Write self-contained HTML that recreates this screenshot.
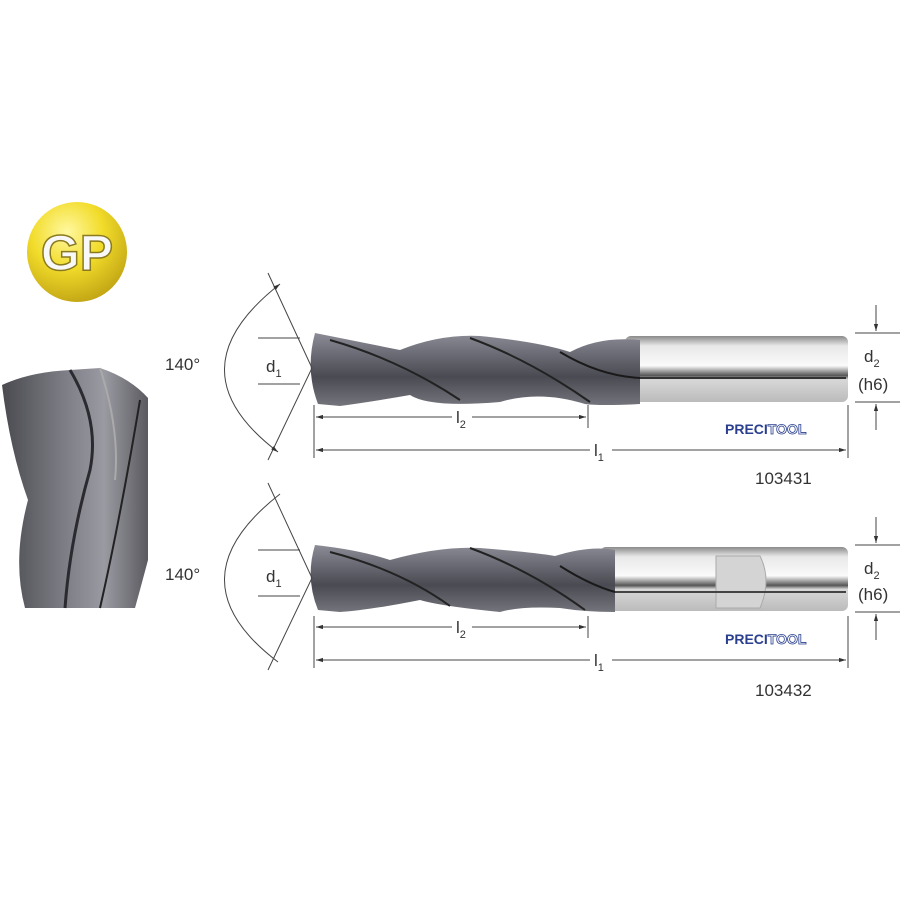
<!DOCTYPE html>
<html><head><meta charset="utf-8"><style>
html,body{margin:0;padding:0;background:#fff;}
svg{display:block;}
text{font-family:"Liberation Sans",sans-serif;fill:#333;}
</style></head><body>
<svg width="900" height="900" viewBox="0 0 900 900" xmlns="http://www.w3.org/2000/svg">
<defs>
<radialGradient id="gold" cx="0.4" cy="0.3" r="0.8">
<stop offset="0" stop-color="#fff8a0"/><stop offset="0.45" stop-color="#f2dc2a"/><stop offset="1" stop-color="#b89a10"/>
</radialGradient>
<linearGradient id="shank" x1="0" y1="0" x2="0" y2="1">
<stop offset="0" stop-color="#8a8a8a"/><stop offset="0.15" stop-color="#e8e8e8"/><stop offset="0.45" stop-color="#fafafa"/><stop offset="0.6" stop-color="#555"/><stop offset="0.66" stop-color="#d8d8d8"/><stop offset="1" stop-color="#bbb"/>
</linearGradient>
<linearGradient id="flute" x1="0" y1="0" x2="0" y2="1">
<stop offset="0" stop-color="#8c8c96"/><stop offset="0.3" stop-color="#6a6a74"/><stop offset="0.6" stop-color="#4a4a52"/><stop offset="1" stop-color="#74747c"/>
</linearGradient>
<linearGradient id="big" x1="0" y1="0" x2="1" y2="0">
<stop offset="0" stop-color="#4a4a50"/><stop offset="0.4" stop-color="#7a7a82"/><stop offset="0.7" stop-color="#9a9aa2"/><stop offset="1" stop-color="#5a5a60"/>
</linearGradient>
<marker id="ar" viewBox="0 0 10 10" refX="10" refY="5" markerWidth="7" markerHeight="7" orient="auto-start-reverse"><path d="M0,2 L10,5 L0,8 z" fill="#333"/></marker>
</defs>

<circle cx="77" cy="252" r="50" fill="url(#gold)"/>
<text x="77" y="270" text-anchor="middle" font-size="50" font-weight="bold" style="fill:#f8f8f8;stroke:#8a7a20;stroke-width:1.5">GP</text>

<path d="M2,385 Q30,372 70,370 L100,368 Q130,378 148,398 L148,560 Q140,590 135,608 L25,608 Q12,560 28,500 Q10,450 2,385 z" fill="url(#big)"/>
<path d="M70,370 Q100,420 90,470 Q70,540 65,608" stroke="#2a2a30" stroke-width="3" fill="none"/>
<path d="M100,368 Q120,430 115,480" stroke="#aaa" stroke-width="2" fill="none"/>
<path d="M140,400 Q120,520 100,608" stroke="#222" stroke-width="2" fill="none"/>

<g>
<rect x="625" y="336" width="223" height="66" rx="6" fill="url(#shank)"/>
<path d="M315,333 Q360,342 400,350 Q440,334 480,336 Q540,342 570,352 Q600,336 640,340 L640,404 Q600,406 585,404 Q540,390 500,402 Q430,408 410,395 Q370,402 340,406 L318,404 Q305,370 315,333 z" fill="url(#flute)"/>
<path d="M330,340 Q400,360 460,400" stroke="#222" stroke-width="2" fill="none"/>
<path d="M470,338 Q530,360 590,402" stroke="#222" stroke-width="2" fill="none"/>
<path d="M560,352 Q600,376 640,378" stroke="#1a1a1a" stroke-width="2" fill="none"/>
<path d="M640,378 L846,378" stroke="#333" stroke-width="2"/>
</g>
<g stroke="#444" stroke-width="1" fill="none">
<path d="M268,273 L312,368 L268,460"/>
<path d="M280,284 Q170,370 278,452" marker-start="url(#ar)" marker-end="url(#ar)"/>
<path d="M258,338 L300,338 M258,384 L300,384"/>
<path d="M314,405 L314,458 M588,405 L588,428 M848,405 L848,458"/>
<path d="M316,417 L452,417" marker-start="url(#ar)"/>
<path d="M472,417 L586,417" marker-end="url(#ar)"/>
<path d="M316,450 L590,450 M612,450 L846,450"/>
<path d="M316,450 L320,450" marker-start="url(#ar)"/><path d="M840,450 L846,450" marker-end="url(#ar)"/>
<path d="M855,333 L900,333 M855,402 L900,402"/>
<path d="M876,305 L876,331" marker-end="url(#ar)"/><path d="M876,430 L876,404" marker-end="url(#ar)"/>
</g>
<text x="165" y="370" font-size="17">140°</text>
<text x="266" y="372" font-size="17">d<tspan font-size="11" dy="5">1</tspan></text>
<text x="456" y="423" font-size="17">l<tspan font-size="11" dy="5">2</tspan></text>
<text x="594" y="456" font-size="17">l<tspan font-size="11" dy="5">1</tspan></text>
<text x="864" y="362" font-size="17">d<tspan font-size="11" dy="5">2</tspan></text>
<text x="858" y="390" font-size="17">(h6)</text>
<text x="725" y="434" font-size="14" font-weight="bold" style="fill:#2a3f8f">PRECI<tspan style="fill:#fff;stroke:#2a3f8f;stroke-width:0.8">TOOL</tspan></text>
<text x="755" y="484" font-size="17">103431</text>

<g>
<rect x="600" y="547" width="248" height="64" rx="6" fill="url(#shank)"/>
<path d="M716,556 L760,556 Q772,580 760,608 L716,608 z" fill="#d4d4d4" stroke="#aaa"/>
<path d="M315,545 Q360,550 390,560 Q440,546 480,548 Q530,552 555,556 Q590,545 615,550 L615,612 Q585,612 560,608 Q520,606 500,612 Q440,606 420,600 Q370,610 340,612 L318,610 Q305,578 315,545 z" fill="url(#flute)"/>
<path d="M330,552 Q400,570 450,606" stroke="#222" stroke-width="2" fill="none"/>
<path d="M470,548 Q530,570 585,610" stroke="#222" stroke-width="2" fill="none"/>
<path d="M560,566 Q590,585 615,592" stroke="#1a1a1a" stroke-width="2" fill="none"/>
<path d="M615,592 L846,592" stroke="#444" stroke-width="2"/>
</g>
<g stroke="#444" stroke-width="1" fill="none">
<path d="M268,483 L312,578 L268,670"/>
<path d="M280,494 Q170,580 278,662"/>
<path d="M258,550 L300,550 M258,596 L300,596"/>
<path d="M314,616 L314,668 M588,616 L588,638 M848,616 L848,668"/>
<path d="M316,627 L452,627" marker-start="url(#ar)"/>
<path d="M472,627 L586,627" marker-end="url(#ar)"/>
<path d="M316,660 L590,660 M612,660 L846,660"/>
<path d="M316,660 L320,660" marker-start="url(#ar)"/><path d="M840,660 L846,660" marker-end="url(#ar)"/>
<path d="M855,545 L900,545 M855,612 L900,612"/>
<path d="M876,517 L876,543" marker-end="url(#ar)"/><path d="M876,640 L876,614" marker-end="url(#ar)"/>
</g>
<text x="165" y="580" font-size="17">140°</text>
<text x="266" y="582" font-size="17">d<tspan font-size="11" dy="5">1</tspan></text>
<text x="456" y="633" font-size="17">l<tspan font-size="11" dy="5">2</tspan></text>
<text x="594" y="666" font-size="17">l<tspan font-size="11" dy="5">1</tspan></text>
<text x="864" y="574" font-size="17">d<tspan font-size="11" dy="5">2</tspan></text>
<text x="858" y="600" font-size="17">(h6)</text>
<text x="725" y="644" font-size="14" font-weight="bold" style="fill:#2a3f8f">PRECI<tspan style="fill:#fff;stroke:#2a3f8f;stroke-width:0.8">TOOL</tspan></text>
<text x="755" y="696" font-size="17">103432</text>
</svg>
</body></html>
